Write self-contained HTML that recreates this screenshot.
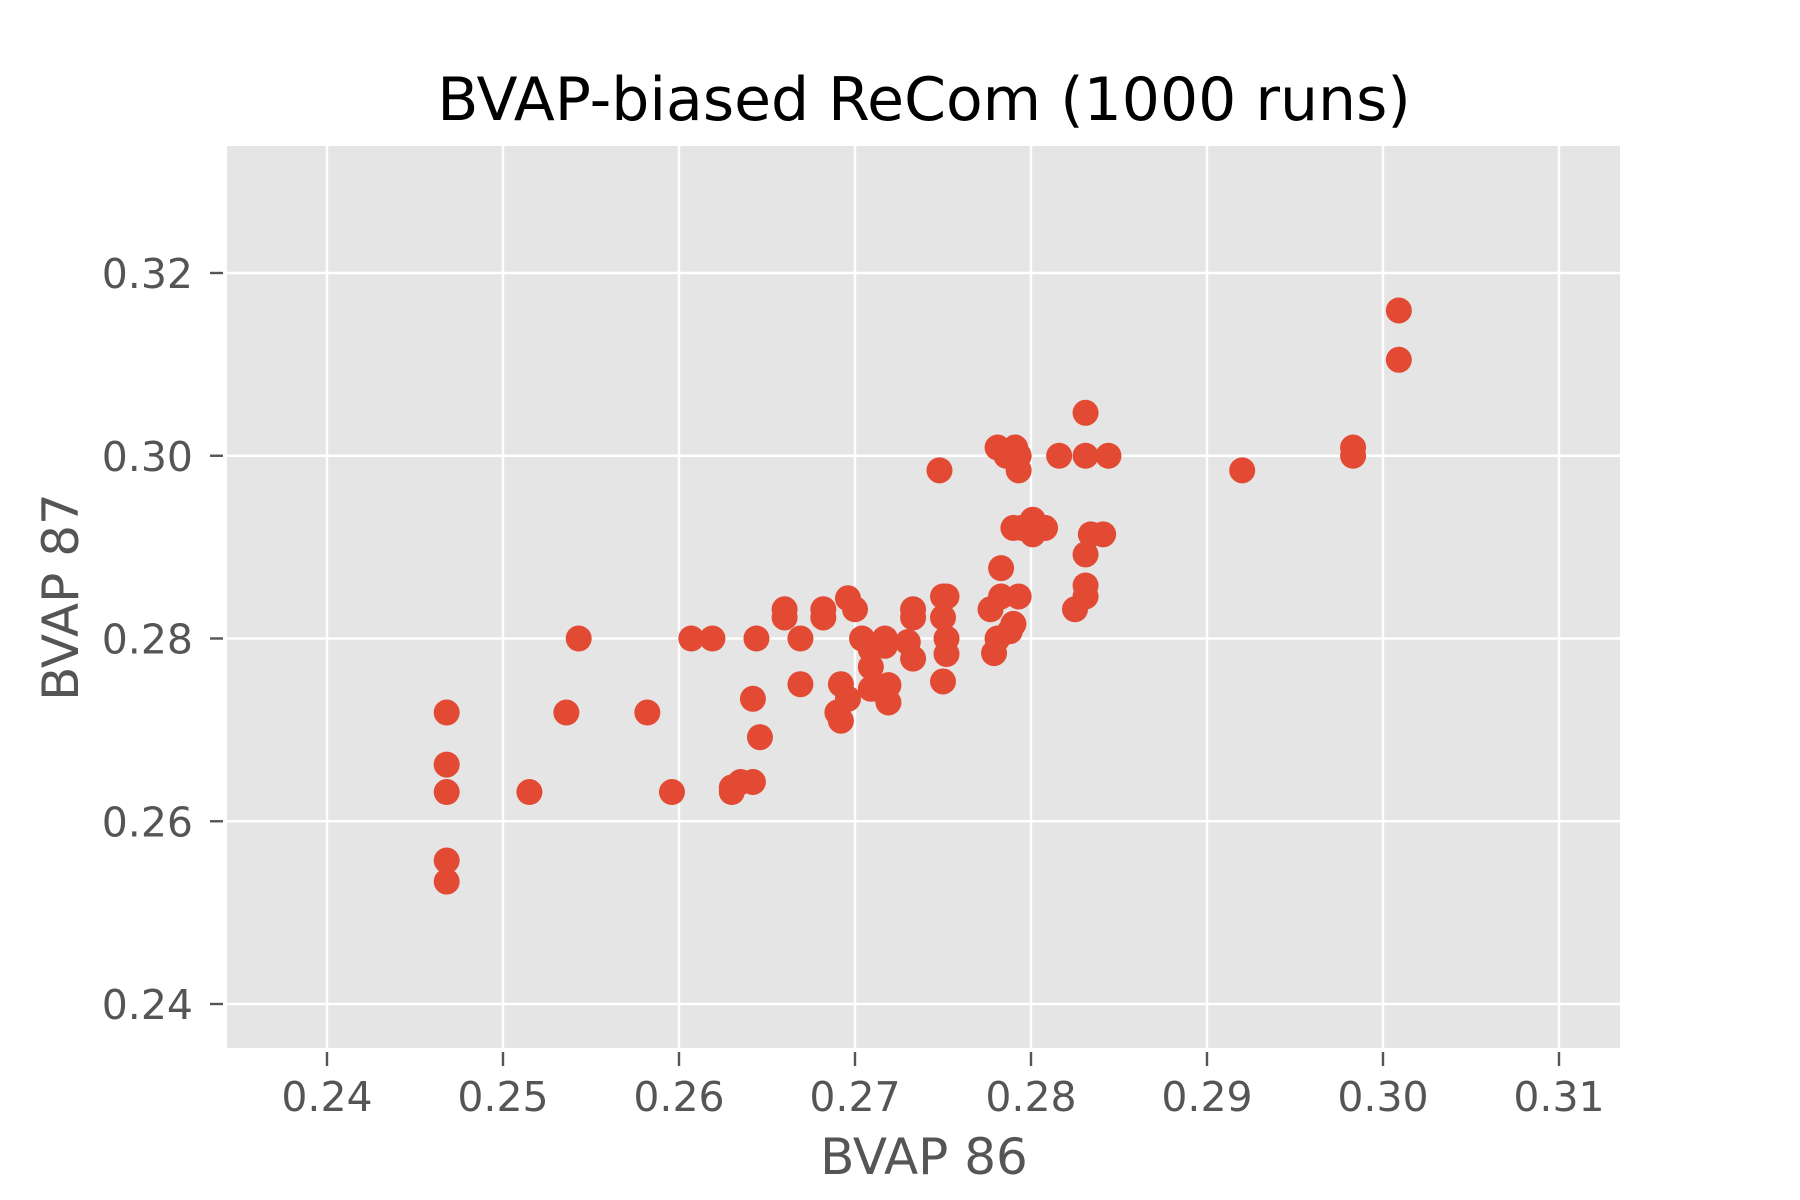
<!DOCTYPE html>
<html><head><meta charset="utf-8">
<style>
html,body{margin:0;padding:0;background:#fff;}
svg{display:block;font-family:"DejaVu Sans","Liberation Sans",sans-serif;}
</style></head>
<body>
<svg id="chart" width="1800" height="1200" viewBox="0 0 1800 1200">
<text x="924" y="120" text-anchor="middle" font-size="60" fill="#000">BVAP-biased ReCom (1000 runs)</text>
<rect x="227" y="146" width="1393" height="902" fill="#e5e5e5"/>
<g id="grid"></g>
<g id="axes"></g>
<g id="points"></g>
<text x="924" y="1174" text-anchor="middle" font-size="50" fill="#555">BVAP 86</text>
<text transform="translate(78,597) rotate(-90)" text-anchor="middle" font-size="50" fill="#555">BVAP 87</text>
</svg>
<script>
const xTicks = [0.24,0.25,0.26,0.27,0.28,0.29,0.30,0.31];
const xTickLabels = ["0.24","0.25","0.26","0.27","0.28","0.29","0.30","0.31"];
const yTicks = [0.24,0.26,0.28,0.30,0.32];
const yTickLabels = ["0.24","0.26","0.28","0.30","0.32"];
const bvap86 = [0.2468,0.2468,0.2468,0.2468,0.2468,0.2515,0.2543,0.2536,0.2582,0.2596,0.2607,0.2619,0.2630,0.2630,0.2635,0.2642,0.2642,0.2644,0.2646,0.2660,0.2660,0.2669,0.2669,0.2682,0.2682,0.2690,0.2692,0.2692,0.2696,0.2696,0.2700,0.2704,0.2709,0.2709,0.2709,0.2712,0.2717,0.2717,0.2719,0.2719,0.2730,0.2733,0.2733,0.2733,0.2748,0.2750,0.2750,0.2750,0.2752,0.2752,0.2752,0.2777,0.2779,0.2781,0.2781,0.2783,0.2783,0.2786,0.2788,0.2790,0.2790,0.2791,0.2793,0.2793,0.2793,0.2795,0.2801,0.2801,0.2808,0.2816,0.2825,0.2831,0.2831,0.2831,0.2831,0.2831,0.2834,0.2841,0.2844,0.2920,0.2983,0.2983,0.3009,0.3009];
const bvap87 = [0.2719,0.2662,0.2632,0.2557,0.2534,0.2632,0.2800,0.2719,0.2719,0.2632,0.2800,0.2800,0.2637,0.2632,0.2643,0.2643,0.2734,0.2800,0.2692,0.2832,0.2823,0.2800,0.2750,0.2832,0.2823,0.2719,0.2710,0.2750,0.2844,0.2734,0.2832,0.2800,0.2769,0.2788,0.2745,0.2745,0.2800,0.2792,0.2749,0.2730,0.2796,0.2832,0.2823,0.2778,0.2984,0.2846,0.2823,0.2753,0.2846,0.2800,0.2783,0.2832,0.2784,0.3009,0.2800,0.2877,0.2846,0.3000,0.2808,0.2921,0.2816,0.3009,0.3000,0.2984,0.2846,0.2921,0.2930,0.2914,0.2921,0.3000,0.2832,0.3047,0.3000,0.2892,0.2858,0.2846,0.2914,0.2914,0.3000,0.2984,0.3009,0.3000,0.3159,0.3105];

const NS = "http://www.w3.org/2000/svg";
function xScale(v){ return 327 + (v - 0.24) / 0.01 * 176; }
function yScale(v){ return 1004 - (v - 0.24) / 0.02 * 182.75; }
function mk(tag, attrs, parent){
  const e = document.createElementNS(NS, tag);
  for (const k in attrs) e.setAttribute(k, attrs[k]);
  parent.appendChild(e);
  return e;
}
const grid = document.getElementById('grid');
const axes = document.getElementById('axes');
const pts = document.getElementById('points');

xTicks.forEach((t, i) => {
  const x = xScale(t);
  const g = mk('line', {x1:x, x2:x, y1:146, y2:1048, stroke:'#fff', 'stroke-width':2.4}, grid);
  
  
  const tk = mk('line', {x1:x, x2:x, y1:1052, y2:1066, stroke:'#555', 'stroke-width':2.4}, axes);
  
  
  const lb = mk('text', {x:x, y:1111, 'text-anchor':'middle', 'font-size':41, fill:'#555'}, axes);
  lb.textContent = xTickLabels[i];
  
  
});
yTicks.forEach((t, i) => {
  const y = yScale(t);
  const g = mk('line', {x1:227, x2:1620, y1:y, y2:y, stroke:'#fff', 'stroke-width':2.4}, grid);
  
  
  const tk = mk('line', {x1:210, x2:223, y1:y, y2:y, stroke:'#555', 'stroke-width':2.4}, axes);
  
  
  const lb = mk('text', {x:193, y:y + 15, 'text-anchor':'end', 'font-size':41, fill:'#555'}, axes);
  lb.textContent = yTickLabels[i];
  
  
});
bvap86.forEach((v, i) => {
  const c = mk('circle', {cx:xScale(v), cy:yScale(bvap87[i]), r:13, fill:'#E24A33'}, pts);
  
  
});
</script>
</body></html>
